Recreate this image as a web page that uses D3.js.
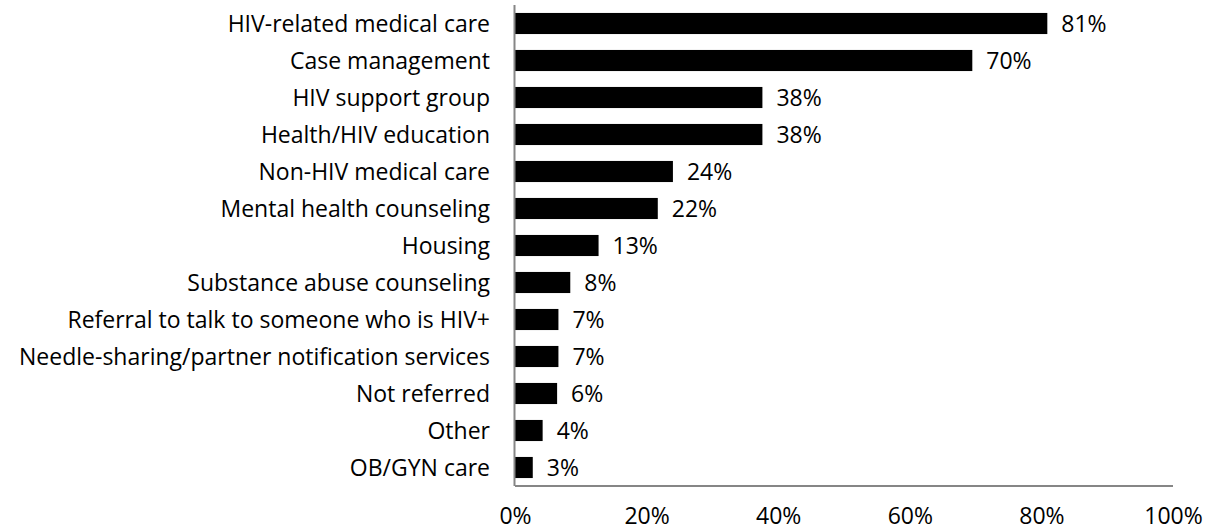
<!DOCTYPE html>
<html>
<head>
<meta charset="utf-8">
<script src="https://cdn.jsdelivr.net/npm/d3@7"></script>
<style>
	body { margin: 0; background: #fff; }
	text { font-family: 'Open Sans', sans-serif; fill: #000; }
</style>
</head>
<body>
<div id="chart"></div>
<script>
var categories = [
	'HIV-related medical care',
	'Case management',
	'HIV support group',
	'Health/HIV education',
	'Non-HIV medical care',
	'Mental health counseling',
	'Housing',
	'Substance abuse counseling',
	'Referral to talk to someone who is HIV+',
	'Needle-sharing/partner notification services',
	'Not referred',
	'Other',
	'OB/GYN care'
];
var values = [80.9, 69.5, 37.6, 37.6, 24.0, 21.7, 12.7, 8.4, 6.6, 6.6, 6.4, 4.2, 2.7];
var xTicks = [0, 20, 40, 60, 80, 100];

var width = 1210;
var height = 531;
var margin = { top: 5, left: 515, bottom: 45, right: 37 };
var g_width = width - margin.left - margin.right;
var g_height = height - margin.top - margin.bottom;
var fontSize = '23px';

var svg = d3.select('#chart').append('svg')
	.attr('width', width)
	.attr('height', height);

var g = svg.append('g')
	.attr('transform', 'translate(' + margin.left + ',' + margin.top + ')');

var xScale = d3.scaleLinear()
	.domain([0, 100])
	.range([0, g_width]);

var yScale = d3.scaleBand()
	.domain(categories)
	.range([0, g_height])
	.paddingInner(0.43)
	.paddingOuter(0.215);

// bars
g.selectAll('.bar')
	.data(values)
	.enter()
	.append('rect')
	.attr('class', 'bar')
	.attr('x', 0)
	.attr('y', function(d, i) { return yScale(categories[i]); })
	.attr('width', function(d) { return xScale(d); })
	.attr('height', yScale.bandwidth())
	.attr('fill', '#000');

// value labels
g.selectAll('.val')
	.data(values)
	.enter()
	.append('text')
	.attr('class', 'val')
	.attr('x', function(d) { return xScale(d) + 14; })
	.attr('y', function(d, i) { return yScale(categories[i]) + yScale.bandwidth() / 2; })
	.attr('dy', '0.36em')
	.style('font-size', fontSize)
	.text(function(d) { return Math.round(d) + '%'; });

// y axis (labels only)
var yAxis = d3.axisLeft(yScale).tickSize(0).tickPadding(25);
var yg = g.append('g').call(yAxis);
yg.select('.domain').remove();
yg.selectAll('text')
	.attr('dy', '0.36em')
	.style('font-size', fontSize)
	.style('font-family', null);

// x axis (labels only)
var xAxis = d3.axisBottom(xScale)
	.tickValues(xTicks)
	.tickSize(0)
	.tickPadding(22)
	.tickFormat(function(d) { return d + '%'; });
var xg = g.append('g')
	.attr('transform', 'translate(0,' + g_height + ')')
	.call(xAxis);
xg.select('.domain').remove();
xg.selectAll('text')
	.style('font-size', fontSize)
	.style('font-family', null);

// axis lines
g.append('line')
	.attr('x1', 0).attr('x2', g_width)
	.attr('y1', g_height).attr('y2', g_height)
	.attr('stroke', '#868686')
	.attr('stroke-width', 2);
g.append('line')
	.attr('x1', -0.5).attr('x2', -0.5)
	.attr('y1', 0).attr('y2', g_height)
	.attr('stroke', '#868686')
	.attr('stroke-width', 2);
</script>
</body>
</html>
